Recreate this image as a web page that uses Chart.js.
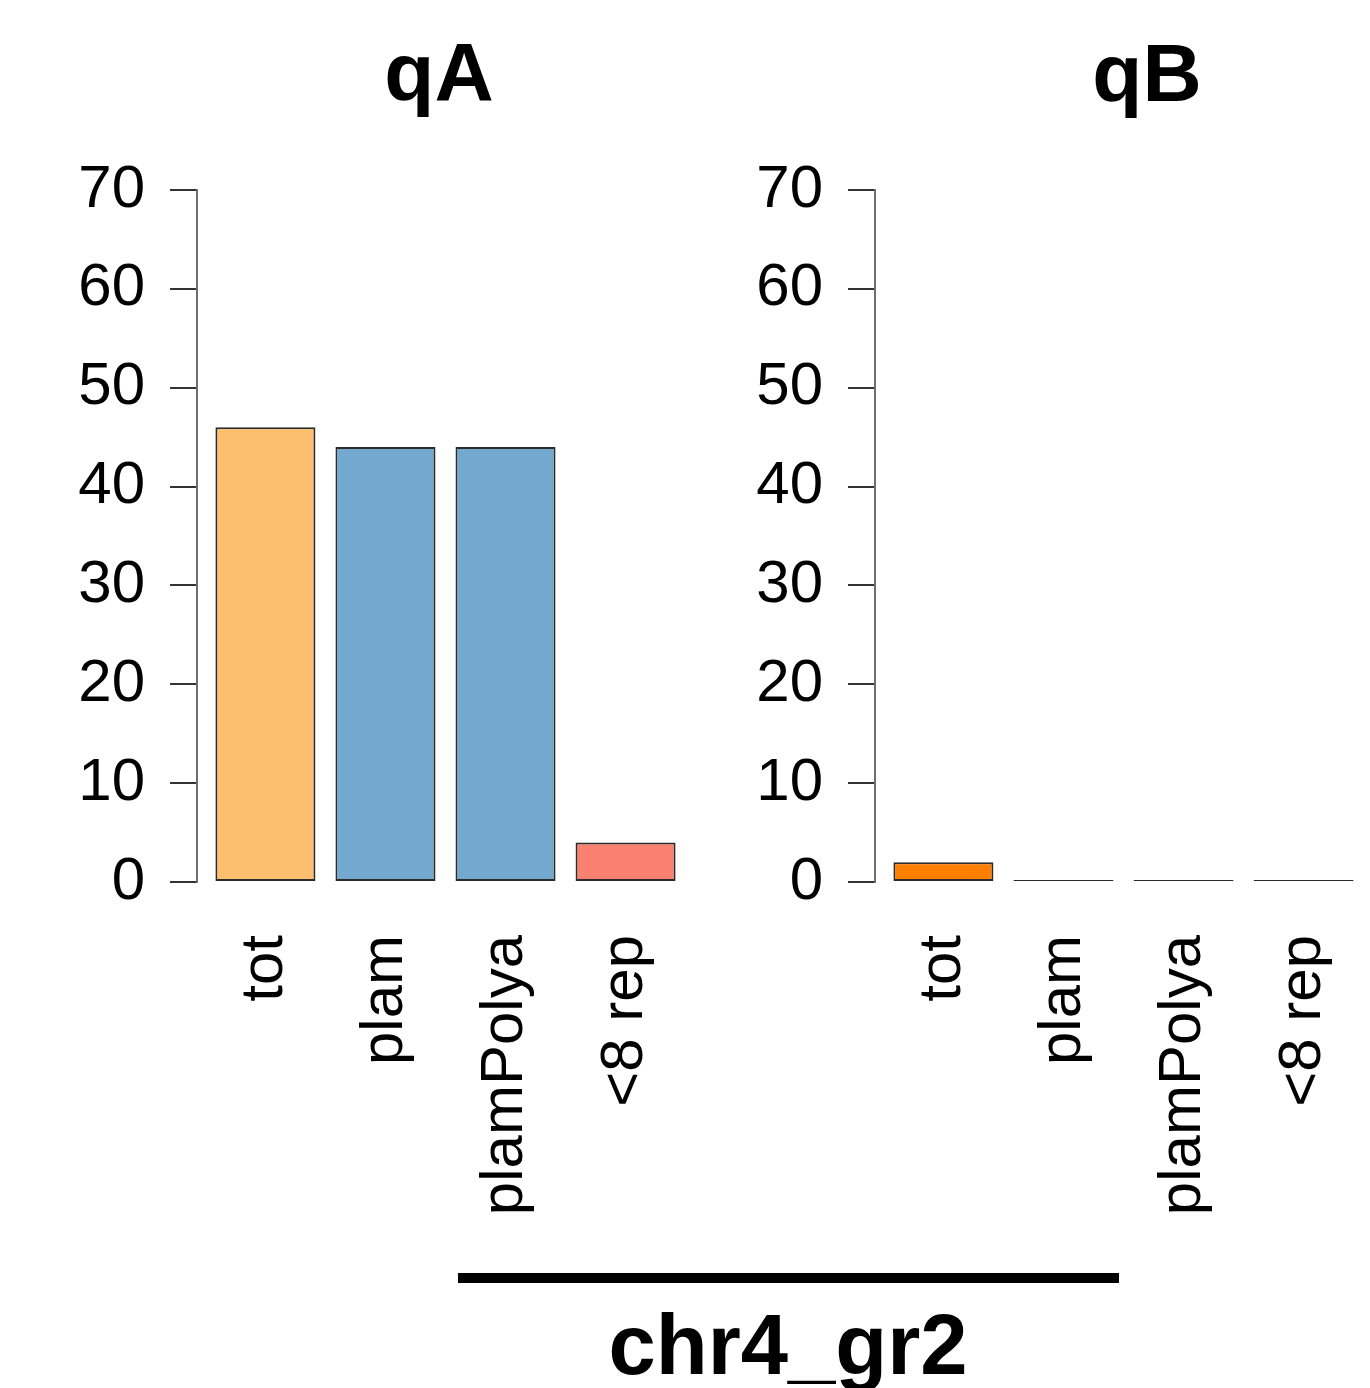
<!DOCTYPE html>
<html>
<head>
<meta charset="utf-8">
<script src="https://cdn.jsdelivr.net/npm/chart.js@4"></script>
<style>
  html, body { margin: 0; padding: 0; background: #fff; overflow: hidden; }
  body { width: 1370px; height: 1388px; position: relative; font-family: "Liberation Sans", Arial, sans-serif; }
  .panel { position: absolute; top: 0; width: 694px; height: 1242px; }
  .ttl { position: absolute; width: 500px; text-align: center; font-weight: bold; font-size: 82px; line-height: 82px; color: #000; }
</style>
</head>
<body>
<div class="ttl" style="left:189px; top:31px;">qA</div>
<div class="ttl" style="left:897px; top:32px;">qB</div>
<div class="panel" style="left:0px;"><canvas id="chartA"></canvas></div>
<div class="panel" style="left:678px;"><canvas id="chartB"></canvas></div>
<div style="position:absolute; left:458px; top:1273px; width:661px; height:10px; background:#000;"></div>
<div class="ttl" style="left:538px; top:1303px; font-size:85px; line-height:84px;">chr4_gr2</div>

<script>
// categories and values
const categories = ["tot", "plam", "plamPolya", "<8 rep"];
const valuesA = [46, 44, 44, 4];
const valuesB = [2, 0, 0, 0];
const colorsA = ["#FDBE6E", "#74A9CF", "#74A9CF", "#FA8072"];
const colorsB = ["#FF7F00", "#74A9CF", "#74A9CF", "#FA8072"];
const yTicks = [0, 10, 20, 30, 40, 50, 60, 70];

// R barplot layout: width 1, space 0.2 -> bar centres at 0.7, 1.9, ...
const barPos = (i) => 0.7 + 1.2 * i;

function makePanel(id, values, colors) {
  const ctx = document.getElementById(id).getContext("2d");
  new Chart(ctx, {
    type: "bar",
    data: {
      datasets: [
        {
          data: values.map((v, i) => ({ x: barPos(i), y: v })),
          backgroundColor: colors,
          borderColor: "#2b2b2b",
          borderWidth: 2,
          borderSkipped: false,
          minBarLength: 2,
          categoryPercentage: 1,
          barPercentage: 1 / 1.2,
        },
      ],
    },
    options: {
      responsive: true,
      maintainAspectRatio: false,
      animation: false,
      layout: { padding: { top: 190, right: 0, left: 0, bottom: 0 } },
      plugins: {
        legend: { display: false },
        tooltip: { enabled: false },
      },
      scales: {
        x: {
          type: "linear",
          offset: false,
          min: 0.016,
          max: 4.984,
          afterBuildTicks: (scale) => {
            scale.ticks = categories.map((c, i) => ({ value: barPos(i) }));
          },
          afterFit: (scale) => {
            scale.height = 360;
            scale.paddingLeft = 0;
            scale.paddingRight = 0;
          },
          grid: { display: false, drawTicks: false },
          border: { display: false },
          ticks: {
            autoSkip: false,
            minRotation: 90,
            maxRotation: 90,
            padding: 53,
            color: "#000",
            font: { family: "Liberation Sans", size: 60 },
            callback: (value, index) => categories[index],
          },
        },
        y: {
          min: 0,
          max: 70,
          afterBuildTicks: (scale) => {
            scale.ticks = yTicks.map((v) => ({ value: v }));
          },
          afterFit: (scale) => {
            scale.width = 197;
          },
          grid: {
            drawOnChartArea: false,
            drawTicks: true,
            tickLength: 27,
            color: "#333",
            lineWidth: 2,
          },
          border: { display: true, color: "#6e6e6e", width: 2 },
          ticks: {
            padding: 25,
            color: "#000",
            font: { family: "Liberation Sans", size: 60 },
          },
        },
      },
    },
  });
}

makePanel("chartA", valuesA, colorsA);
makePanel("chartB", valuesB, colorsB);
</script>
</body>
</html>
